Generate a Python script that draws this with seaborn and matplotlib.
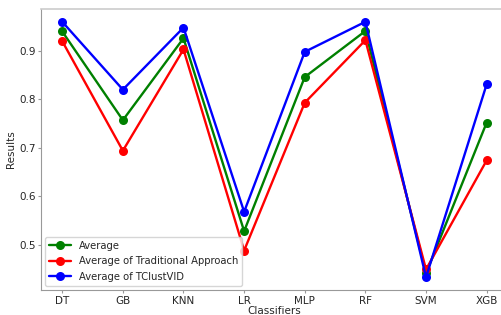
import matplotlib

matplotlib.use("Agg")
import matplotlib.pyplot as plt
import pandas as pd
import seaborn as sns

# datos
clasificadores = ["DT", "GB", "KNN", "LR", "MLP", "RF", "SVM", "XGB"]
promedio = [0.940, 0.757, 0.926, 0.528, 0.846, 0.941, 0.441, 0.752]
tradicional = [0.920, 0.694, 0.903, 0.488, 0.793, 0.922, 0.449, 0.674]
tclustvid = [0.960, 0.820, 0.948, 0.568, 0.898, 0.960, 0.433, 0.831]

series = [
    ("Average", promedio, "green"),
    ("Average of Traditional Approach", tradicional, "red"),
    ("Average of TClustVID", tclustvid, "blue"),
]

sns.set_style("white")
plt.rcParams["font.family"] = ["DejaVu Sans"]

fig = plt.figure(figsize=(5.02, 3.15), dpi=100)
# el original esta recortado a la derecha: el eje sigue mas alla del borde
ax = fig.add_axes([0.0817, 0.0794, 0.930, 0.892])

for nombre, valores, color in series:
    df = pd.DataFrame({"clf": clasificadores, "val": valores})
    sns.lineplot(
        data=df,
        x="clf",
        y="val",
        ax=ax,
        color=color,
        label=nombre,
        marker="o",
        markersize=6.5,
        markeredgewidth=0,
        linewidth=1.7,
        sort=False,
    )

ax.set_xlabel("Classifiers", fontsize=7.5, labelpad=0)
ax.set_ylabel("Results", fontsize=7.5, labelpad=2)
ax.tick_params(axis="both", labelsize=7.5, length=2.5, width=0.8, color="#999999",
               bottom=True, left=True, pad=1.5)
ax.set_yticks([0.5, 0.6, 0.7, 0.8, 0.9])

for lado in ["left", "bottom"]:
    ax.spines[lado].set_color("#999999")
    ax.spines[lado].set_linewidth(0.8)
ax.spines["top"].set_color("#cccccc")
ax.spines["top"].set_linewidth(1.2)
ax.spines["right"].set_color("#cccccc")

ax.legend(loc="lower left", fontsize=7.2, frameon=True, edgecolor="#cccccc",
          borderpad=0.4, labelspacing=0.55, handlelength=2.2,
          borderaxespad=0.4)

fig.savefig("out.png", dpi=100)
